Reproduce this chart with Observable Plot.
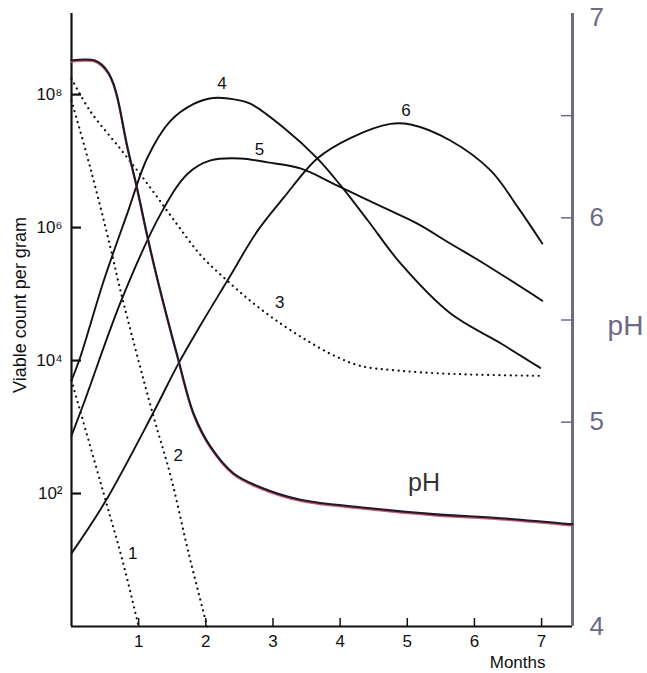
<!DOCTYPE html>
<html><head><meta charset="utf-8">
<script src="https://cdn.jsdelivr.net/npm/d3@7"></script>
<script src="https://cdn.jsdelivr.net/npm/@observablehq/plot@0.6"></script>
<style>
html,body{margin:0;padding:0;background:#fff;}
#chart svg{display:block;}
</style></head><body><div id="chart"></div>
<script>
// [month, log10(viable count per gram)]
const curve1 = [[0,3.70],[0.51,1.89],[0.76,0.99],[1.0,0]];
const curve2 = [[0,7.91],[0.28,6.90],[0.58,5.70],[0.73,5.05],[1.21,3.20],[1.48,2.25],[1.74,1.12],[2.02,0]];
const curve3 = [[0,8.24],[0.28,7.75],[0.73,7.18],[1.13,6.66],[1.52,6.12],[1.92,5.59],[2.32,5.20],[2.71,4.86],[3.11,4.56],[3.51,4.30],[3.90,4.08],[4.30,3.92],[4.86,3.85],[5.64,3.80],[6.96,3.77]];
const curve4 = [[0,3.70],[0.13,4.05],[0.48,5.20],[0.83,6.21],[1.13,7.05],[1.47,7.60],[1.82,7.86],[2.11,7.95],[2.52,7.91],[2.67,7.86],[3.16,7.50],[3.66,7.04],[4.01,6.63],[4.41,6.11],[4.90,5.46],[5.64,4.71],[6.39,4.26],[6.98,3.89]];
const curve5 = [[0,2.87],[0.18,3.35],[0.76,4.95],[1.33,6.21],[1.73,6.81],[2.07,7.01],[2.52,7.04],[2.92,6.98],[3.41,6.89],[3.96,6.63],[4.65,6.30],[5.15,6.06],[5.64,5.76],[6.14,5.46],[7.01,4.90]];
const curve6 = [[0,1.10],[0.51,1.89],[1.21,3.20],[1.59,3.95],[1.92,4.53],[2.32,5.20],[2.77,5.95],[3.16,6.45],[3.66,7.04],[4.16,7.35],[4.75,7.56],[5.05,7.55],[5.64,7.31],[6.24,6.86],[6.65,6.30],[7.01,5.76]];
// [month, pH]
const phCurve = [[0,6.77],[0.2,6.775],[0.35,6.77],[0.45,6.75],[0.55,6.71],[0.62,6.66],[0.69,6.58],[0.83,6.35],[0.98,6.14],[1.13,5.91],[1.28,5.70],[1.58,5.32],[1.82,5.04],[2.07,4.88],[2.41,4.75],[2.82,4.68],[3.41,4.62],[4.41,4.58],[5.39,4.55],[6.39,4.53],[7.46,4.50]];

const curveLabels = ["1","2","3","4","5","6"];
const labelMonths = [0.91,1.59,3.10,2.24,2.80,4.98];
const labelLogs = [1.10,2.57,4.87,8.17,7.17,7.76];
const phTextLabel = ["pH"];
const phTextMonth = [5.25];
const phTextValue = [4.70];

const xTicks = [1,2,3,4,5,6,7];
const leftTickExps = [2,4,6,8];
const phLabelTicks = [4,5,6];
const phTopTick = [7];
const phMinorTicks = [4.5,5,5.5,6,6.5];
const yTitle = ["Viable count per gram"];
const xTitle = ["Months"];
const rightTitle = ["pH"];

const TOP = 9.22, XMAX = 7.46;
const phToY = p => 10 ** ((p - 4) / 3 * TOP);
const yToPh = v => 4 + Math.log10(v) * 3 / TOP;
const supMap = {"0":"⁰","1":"¹","2":"²","3":"³","4":"⁴","5":"⁵","6":"⁶","7":"⁷","8":"⁸","9":"⁹"};
const font = "'Liberation Sans', Arial, Helvetica, sans-serif";
const axisColor = "#6d6a84";

const dotted = {curve: "catmull-rom", stroke: "#111", strokeWidth: 2.2, strokeDasharray: "0.1 5.5", strokeLinecap: "round"};
const solid = {curve: "catmull-rom", stroke: "#111", strokeWidth: 1.9};
const X = d => d[0], Y = d => 10 ** d[1];
const phText = v => String(Math.round(yToPh(v)));

const chart = Plot.plot({
  width: 647, height: 673,
  marginLeft: 71, marginRight: 75, marginTop: 13, marginBottom: 47,
  style: {fontFamily: font, fontSize: "17px", background: "#fff", color: "#111"},
  x: {domain: [0, XMAX]},
  y: {type: "log", domain: [1, 10 ** TOP]},
  marks: [
    Plot.axisX({ticks: xTicks, tickSize: -8, tickPadding: 16, text: d => String(d), label: null, fontSize: 17, strokeWidth: 1.5}),
    Plot.axisY({anchor: "left", ticks: leftTickExps.map(e => 10 ** e), tickSize: -10, tickPadding: 19, strokeWidth: 2.2,
      text: v => "10" + String(Math.round(Math.log10(v))).split("").map(c => supMap[c]).join(""), label: null, fontSize: 17}),
    Plot.axisY({anchor: "right", ticks: phMinorTicks.map(phToY), tickSize: -12, text: () => "", label: null, color: axisColor, strokeWidth: 1.5}),
    Plot.axisY({anchor: "right", ticks: phLabelTicks.map(phToY), tickSize: 0, tickPadding: 17, text: phText, label: null, fontSize: 26, color: axisColor}),
    Plot.axisY({anchor: "right", ticks: phTopTick.map(phToY), tickSize: 0, tickPadding: 17, text: phText, label: null, fontSize: 26, color: axisColor, dy: 4}),
    Plot.ruleX([0], {stroke: "#111", strokeWidth: 2.2}),
    Plot.ruleY([1], {stroke: "#111", strokeWidth: 2.2}),
    Plot.ruleX([XMAX], {stroke: axisColor, strokeWidth: 3}),
    Plot.line(curve1, {x: X, y: Y, ...dotted}),
    Plot.line(curve2, {x: X, y: Y, ...dotted}),
    Plot.line(curve3, {x: X, y: Y, ...dotted}),
    Plot.line(curve4, {x: X, y: Y, ...solid}),
    Plot.line(curve5, {x: X, y: Y, ...solid}),
    Plot.line(curve6, {x: X, y: Y, ...solid}),
    Plot.line(phCurve, {x: X, y: d => phToY(d[1]), curve: "catmull-rom", stroke: "#cf5a72", strokeWidth: 2, dy: 1.3}),
    Plot.line(phCurve, {x: X, y: d => phToY(d[1]), curve: "catmull-rom", stroke: "#1a1a2a", strokeWidth: 2.1}),
    Plot.text(curveLabels, {x: (d, i) => labelMonths[i], y: (d, i) => 10 ** labelLogs[i], text: d => d, fontSize: 17, fill: "#111"}),
    Plot.text(phTextLabel, {x: (d, i) => phTextMonth[i], y: (d, i) => phToY(phTextValue[i]), text: d => d, fontSize: 25, fill: "#333"}),
    Plot.text(yTitle, {frameAnchor: "left", text: d => d, textAnchor: "middle", rotate: -90, dx: -51, dy: -15, fontSize: 18, fill: "#111"}),
    Plot.text(xTitle, {frameAnchor: "bottom-right", text: d => d, textAnchor: "end", dx: -27, dy: 41, fontSize: 17, fill: "#111"}),
    Plot.text(rightTitle, {frameAnchor: "right", text: d => d, textAnchor: "middle", dx: 53, dy: 6, fontSize: 28, fill: axisColor})
  ]
});
document.getElementById("chart").appendChild(chart);
</script>
</body></html>
